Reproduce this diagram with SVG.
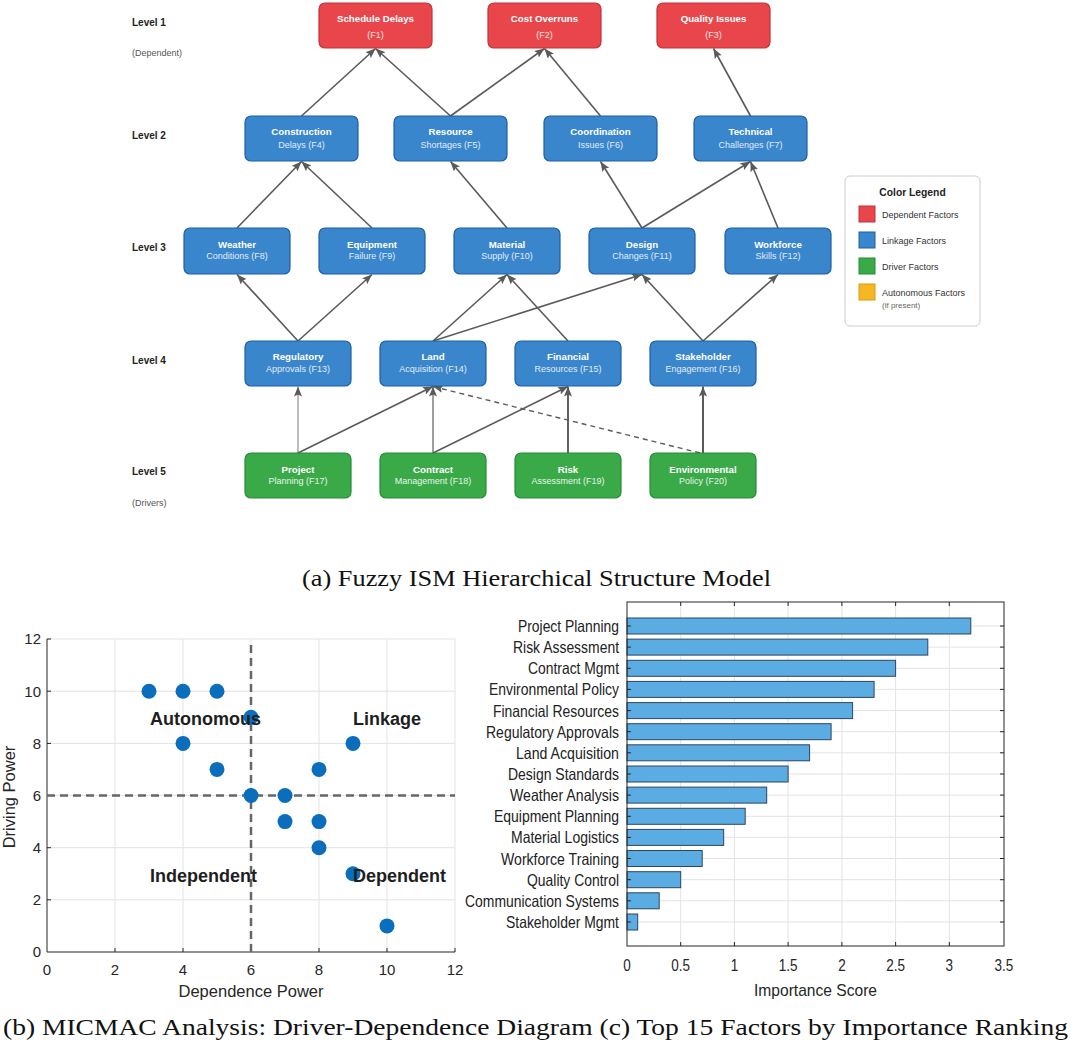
<svg xmlns="http://www.w3.org/2000/svg" width="1071" height="1045" viewBox="0 0 1071 1045">
<style>
.bg{fill:#ffffff}
.red rect{fill:#e9464b;stroke:#c3303a;stroke-width:1.2}
.blue rect{fill:#3a86cc;stroke:#1f5fa3;stroke-width:1.2}
.green rect{fill:#3aaa48;stroke:#278a35;stroke-width:1.2}
.t1{font-family:"Liberation Sans",Arial,sans-serif;font-weight:bold;font-size:9.7px;fill:#ffffff;text-anchor:middle}
.t2{font-family:"Liberation Sans",Arial,sans-serif;font-size:9px;text-anchor:middle}
.red .t2{fill:#fde2e2}
.blue .t2{fill:#e0ecf8}
.green .t2{fill:#e6f5e8}
.lvl{font-family:"Liberation Sans",Arial,sans-serif;font-weight:bold;font-size:10px;fill:#222}
.lvls{font-family:"Liberation Sans",Arial,sans-serif;font-size:9px;fill:#555}
.edge{stroke:#5a5a5a;stroke-width:1.6;fill:none}
.lg{font-family:"Liberation Sans",Arial,sans-serif;font-size:9px;fill:#333}
.cap{font-family:"Liberation Serif","Times New Roman",serif;font-size:23px;fill:#111}
.grid{stroke:#e3e3e3;stroke-width:1}
.ax{stroke:#262626;stroke-width:1;fill:none}
.tk{font-family:"Liberation Sans",Arial,sans-serif;font-size:15px;fill:#262626}
.quad{font-family:"Liberation Sans",Arial,sans-serif;font-weight:bold;font-size:18px;fill:#1e1e1e}
.pt{fill:#0a6ebd}
.bar{fill:#5aace2;stroke:#2d4660;stroke-width:1}
.bl{font-family:"Liberation Sans",Arial,sans-serif;font-size:16.5px;fill:#222;text-anchor:end}
.bn{font-family:"Liberation Sans",Arial,sans-serif;font-size:16.5px;fill:#262626;text-anchor:middle}
</style>
<defs>
<marker id="ah" viewBox="0 0 10 8" refX="10" refY="4" markerWidth="10" markerHeight="8" markerUnits="userSpaceOnUse" orient="auto">
<path d="M0,0 L10,4 L0,8 L2,4 Z" fill="#5a5a5a"/>
</marker>
</defs>
<rect class="bg" x="0" y="0" width="1071" height="1045"/>

<!-- Level labels -->
<g id="level-labels">
<text class="lvl" x="132" y="26">Level 1</text>
<text class="lvls" x="132" y="56">(Dependent)</text>
<text class="lvl" x="132" y="138.5">Level 2</text>
<text class="lvl" x="132" y="250.5">Level 3</text>
<text class="lvl" x="132" y="363.5">Level 4</text>
<text class="lvl" x="132" y="475">Level 5</text>
<text class="lvls" x="132" y="506">(Drivers)</text>
</g>

<!-- Connectors -->
<g id="connectors" marker-end="url(#ah)">
<line class="edge" x1="301.5" y1="116" x2="375.5" y2="48.5" marker-end="url(#ah)"/>
<line class="edge" x1="450.5" y1="116" x2="375.5" y2="48.5" marker-end="url(#ah)"/>
<line class="edge" x1="450.5" y1="116" x2="544.5" y2="48.5" marker-end="url(#ah)"/>
<line class="edge" x1="600.5" y1="116" x2="544.5" y2="48.5" marker-end="url(#ah)"/>
<line class="edge" x1="750.5" y1="116" x2="713.5" y2="48.5" marker-end="url(#ah)"/>
<line class="edge" x1="237" y1="228" x2="301.5" y2="161.5" marker-end="url(#ah)"/>
<line class="edge" x1="372" y1="228" x2="301.5" y2="161.5" marker-end="url(#ah)"/>
<line class="edge" x1="507" y1="228" x2="450.5" y2="161.5" marker-end="url(#ah)"/>
<line class="edge" x1="642" y1="228" x2="600.5" y2="161.5" marker-end="url(#ah)"/>
<line class="edge" x1="642" y1="228" x2="750.5" y2="161.5" marker-end="url(#ah)"/>
<line class="edge" x1="778" y1="228" x2="750.5" y2="161.5" marker-end="url(#ah)"/>
<line class="edge" x1="298" y1="341" x2="237" y2="274.5" marker-end="url(#ah)"/>
<line class="edge" x1="298" y1="341" x2="372" y2="274.5" marker-end="url(#ah)"/>
<line class="edge" x1="433" y1="341" x2="507" y2="274.5" marker-end="url(#ah)"/>
<line class="edge" x1="433" y1="341" x2="642" y2="274.5" marker-end="url(#ah)"/>
<line class="edge" x1="568" y1="341" x2="507" y2="274.5" marker-end="url(#ah)"/>
<line class="edge" x1="703" y1="341" x2="642" y2="274.5" marker-end="url(#ah)"/>
<line class="edge" x1="703" y1="341" x2="778" y2="274.5" marker-end="url(#ah)"/>
<line class="edge" x1="298" y1="453" x2="298" y2="386.5" style="stroke:#777;stroke-width:1" marker-end="url(#ah)"/>
<line class="edge" x1="298" y1="453" x2="433" y2="386.5" marker-end="url(#ah)"/>
<line class="edge" x1="433" y1="453" x2="433" y2="386.5" style="stroke-width:1.3;stroke:#6a6a6a" marker-end="url(#ah)"/>
<line class="edge" x1="433" y1="453" x2="568" y2="386.5" marker-end="url(#ah)"/>
<line class="edge" x1="568" y1="453" x2="568" y2="386.5" style="stroke-width:1.9" marker-end="url(#ah)"/>
<line class="edge" x1="703" y1="453" x2="703" y2="386.5" style="stroke-width:2" marker-end="url(#ah)"/>
<line class="edge" x1="700" y1="453" x2="433" y2="386.5" style="stroke-dasharray:5,4;stroke-width:1.4" marker-end="url(#ah)"/>
</g>

<!-- Level 1 -->
<g id="F1" class="red"><rect x="319" y="3" width="113" height="45" rx="6"/><text class="t1" x="375.5" y="22">Schedule Delays</text><text class="t2" x="375.5" y="38">(F1)</text></g>
<g id="F2" class="red"><rect x="488" y="3" width="113" height="45" rx="6"/><text class="t1" x="544.5" y="22">Cost Overruns</text><text class="t2" x="544.5" y="38">(F2)</text></g>
<g id="F3" class="red"><rect x="657" y="3" width="113" height="45" rx="6"/><text class="t1" x="713.5" y="22">Quality Issues</text><text class="t2" x="713.5" y="38">(F3)</text></g>

<!-- Level 2 -->
<g id="F4" class="blue"><rect x="245" y="116" width="113" height="45" rx="6"/><text class="t1" x="301.5" y="135">Construction</text><text class="t2" x="301.5" y="147.5">Delays (F4)</text></g>
<g id="F5" class="blue"><rect x="394" y="116" width="113" height="45" rx="6"/><text class="t1" x="450.5" y="135">Resource</text><text class="t2" x="450.5" y="147.5">Shortages (F5)</text></g>
<g id="F6" class="blue"><rect x="544" y="116" width="113" height="45" rx="6"/><text class="t1" x="600.5" y="135">Coordination</text><text class="t2" x="600.5" y="147.5">Issues (F6)</text></g>
<g id="F7" class="blue"><rect x="694" y="116" width="113" height="45" rx="6"/><text class="t1" x="750.5" y="135">Technical</text><text class="t2" x="750.5" y="147.5">Challenges (F7)</text></g>

<!-- Level 3 -->
<g id="F8" class="blue"><rect x="184" y="228" width="106" height="46" rx="6"/><text class="t1" x="237" y="247.5">Weather</text><text class="t2" x="237" y="259">Conditions (F8)</text></g>
<g id="F9" class="blue"><rect x="319" y="228" width="106" height="46" rx="6"/><text class="t1" x="372" y="247.5">Equipment</text><text class="t2" x="372" y="259">Failure (F9)</text></g>
<g id="F10" class="blue"><rect x="454" y="228" width="106" height="46" rx="6"/><text class="t1" x="507" y="247.5">Material</text><text class="t2" x="507" y="259">Supply (F10)</text></g>
<g id="F11" class="blue"><rect x="589" y="228" width="106" height="46" rx="6"/><text class="t1" x="642" y="247.5">Design</text><text class="t2" x="642" y="259">Changes (F11)</text></g>
<g id="F12" class="blue"><rect x="725" y="228" width="106" height="46" rx="6"/><text class="t1" x="778" y="247.5">Workforce</text><text class="t2" x="778" y="259">Skills (F12)</text></g>

<!-- Level 4 -->
<g id="F13" class="blue"><rect x="245" y="341" width="106" height="45" rx="6"/><text class="t1" x="298" y="360">Regulatory</text><text class="t2" x="298" y="371.5">Approvals (F13)</text></g>
<g id="F14" class="blue"><rect x="380" y="341" width="106" height="45" rx="6"/><text class="t1" x="433" y="360">Land</text><text class="t2" x="433" y="371.5">Acquisition (F14)</text></g>
<g id="F15" class="blue"><rect x="515" y="341" width="106" height="45" rx="6"/><text class="t1" x="568" y="360">Financial</text><text class="t2" x="568" y="371.5">Resources (F15)</text></g>
<g id="F16" class="blue"><rect x="650" y="341" width="106" height="45" rx="6"/><text class="t1" x="703" y="360">Stakeholder</text><text class="t2" x="703" y="371.5">Engagement (F16)</text></g>

<!-- Level 5 -->
<g id="F17" class="green"><rect x="245" y="453" width="106" height="45" rx="6"/><text class="t1" x="298" y="472.5">Project</text><text class="t2" x="298" y="484">Planning (F17)</text></g>
<g id="F18" class="green"><rect x="380" y="453" width="106" height="45" rx="6"/><text class="t1" x="433" y="472.5">Contract</text><text class="t2" x="433" y="484">Management (F18)</text></g>
<g id="F19" class="green"><rect x="515" y="453" width="106" height="45" rx="6"/><text class="t1" x="568" y="472.5">Risk</text><text class="t2" x="568" y="484">Assessment (F19)</text></g>
<g id="F20" class="green"><rect x="650" y="453" width="106" height="45" rx="6"/><text class="t1" x="703" y="472.5">Environmental</text><text class="t2" x="703" y="484">Policy (F20)</text></g>

<!-- Legend -->
<g id="legend">
<rect x="845" y="176" width="135" height="150" rx="5" fill="#ffffff" stroke="#cccccc" stroke-width="1"/>
<text x="912.5" y="195.5" text-anchor="middle" style="font-family:'Liberation Sans',Arial,sans-serif;font-weight:bold;font-size:10.3px;fill:#222">Color Legend</text>
<rect x="859" y="206" width="16" height="16" fill="#e9464b" stroke="#c3303a"/>
<text class="lg" x="882" y="217.5">Dependent Factors</text>
<rect x="859" y="232" width="16" height="16" fill="#3a86cc" stroke="#1f5fa3"/>
<text class="lg" x="882" y="243.5">Linkage Factors</text>
<rect x="859" y="258" width="16" height="16" fill="#3aaa48" stroke="#278a35"/>
<text class="lg" x="882" y="269.5">Driver Factors</text>
<rect x="859" y="284" width="16" height="16" fill="#f6b822" stroke="#d89c10"/>
<text class="lg" x="882" y="295.5">Autonomous Factors</text>
<text x="882" y="307.5" style="font-family:'Liberation Sans',Arial,sans-serif;font-size:8px;fill:#666">(if present)</text>
</g>

<text class="cap" x="302" y="586" textLength="469" lengthAdjust="spacingAndGlyphs">(a) Fuzzy ISM Hierarchical Structure Model</text>

<!-- MICMAC scatter -->
<g id="micmac">
<g class="grid">
<line x1="115" y1="639" x2="115" y2="952"/><line x1="183" y1="639" x2="183" y2="952"/><line x1="251" y1="639" x2="251" y2="952"/><line x1="319" y1="639" x2="319" y2="952"/><line x1="387" y1="639" x2="387" y2="952"/><line x1="455" y1="639" x2="455" y2="952"/>
<line x1="47" y1="899.8" x2="455" y2="899.8"/><line x1="47" y1="847.7" x2="455" y2="847.7"/><line x1="47" y1="795.5" x2="455" y2="795.5"/><line x1="47" y1="743.4" x2="455" y2="743.4"/><line x1="47" y1="691.2" x2="455" y2="691.2"/><line x1="47" y1="639" x2="455" y2="639"/>
</g>
<path class="ax" d="M47,639 V952 H455"/>
<path class="ax" d="M115,952 v-4 M183,952 v-4 M251,952 v-4 M319,952 v-4 M387,952 v-4 M455,952 v-4 M47,899.8 h4 M47,847.7 h4 M47,795.5 h4 M47,743.4 h4 M47,691.2 h4 M47,639 h4"/>
<g class="tk" text-anchor="middle">
<text x="47" y="975">0</text><text x="115" y="975">2</text><text x="183" y="975">4</text><text x="251" y="975">6</text><text x="319" y="975">8</text><text x="387" y="975">10</text><text x="455" y="975">12</text>
</g>
<g class="tk" text-anchor="end">
<text x="41" y="957">0</text><text x="41" y="905">2</text><text x="41" y="853">4</text><text x="41" y="801">6</text><text x="41" y="748.5">8</text><text x="41" y="696.5">10</text><text x="41" y="644">12</text>
</g>
<line x1="251" y1="645" x2="251" y2="952" stroke="#666" stroke-width="2.5" stroke-dasharray="8,5"/>
<line x1="47" y1="795.5" x2="455" y2="795.5" stroke="#666" stroke-width="2.5" stroke-dasharray="8,5"/>
<g class="pt">
<circle cx="149" cy="691.2" r="7.5"/><circle cx="183" cy="691.2" r="7.5"/><circle cx="217" cy="691.2" r="7.5"/>
<circle cx="251" cy="717.3" r="7.5"/><circle cx="183" cy="743.4" r="7.5"/><circle cx="217" cy="769.4" r="7.5"/>
<circle cx="251" cy="795.5" r="7.5"/><circle cx="285" cy="795.5" r="7.5"/><circle cx="285" cy="821.6" r="7.5"/>
<circle cx="319" cy="769.4" r="7.5"/><circle cx="319" cy="821.6" r="7.5"/><circle cx="319" cy="847.7" r="7.5"/>
<circle cx="353" cy="743.4" r="7.5"/><circle cx="353" cy="873.8" r="7.5"/><circle cx="387" cy="925.9" r="7.5"/>
</g>
<text class="quad" x="150" y="724.5">Autonomous</text>
<text class="quad" x="353" y="724.5">Linkage</text>
<text class="quad" x="150" y="882">Independent</text>
<text class="quad" x="353" y="882">Dependent</text>
<text x="251" y="997" text-anchor="middle" style="font-family:'Liberation Sans',Arial,sans-serif;font-size:16.5px;fill:#262626">Dependence Power</text>
<text transform="translate(15,797) rotate(-90)" text-anchor="middle" style="font-family:'Liberation Sans',Arial,sans-serif;font-size:16.5px;fill:#262626">Driving Power</text>
</g>

<!-- Bar chart -->
<g id="ranking">
<g class="grid">
<line x1="680.7" y1="602" x2="680.7" y2="946"/><line x1="734.4" y1="602" x2="734.4" y2="946"/><line x1="788.1" y1="602" x2="788.1" y2="946"/><line x1="841.9" y1="602" x2="841.9" y2="946"/><line x1="895.6" y1="602" x2="895.6" y2="946"/><line x1="949.3" y1="602" x2="949.3" y2="946"/>
<line x1="627" y1="626" x2="1004" y2="626"/><line x1="627" y1="647.1" x2="1004" y2="647.1"/><line x1="627" y1="668.3" x2="1004" y2="668.3"/><line x1="627" y1="689.4" x2="1004" y2="689.4"/><line x1="627" y1="710.6" x2="1004" y2="710.6"/><line x1="627" y1="731.7" x2="1004" y2="731.7"/><line x1="627" y1="752.8" x2="1004" y2="752.8"/><line x1="627" y1="774" x2="1004" y2="774"/><line x1="627" y1="795.1" x2="1004" y2="795.1"/><line x1="627" y1="816.3" x2="1004" y2="816.3"/><line x1="627" y1="837.4" x2="1004" y2="837.4"/><line x1="627" y1="858.5" x2="1004" y2="858.5"/><line x1="627" y1="879.7" x2="1004" y2="879.7"/><line x1="627" y1="900.8" x2="1004" y2="900.8"/><line x1="627" y1="922" x2="1004" y2="922"/>
</g>
<g class="bar">
<rect x="627" y="618" width="343.8" height="16"/>
<rect x="627" y="639.1" width="300.8" height="16"/>
<rect x="627" y="660.3" width="268.6" height="16"/>
<rect x="627" y="681.4" width="247.1" height="16"/>
<rect x="627" y="702.6" width="225.6" height="16"/>
<rect x="627" y="723.7" width="204.1" height="16"/>
<rect x="627" y="744.8" width="182.6" height="16"/>
<rect x="627" y="766" width="161.1" height="16"/>
<rect x="627" y="787.1" width="139.7" height="16"/>
<rect x="627" y="808.3" width="118.2" height="16"/>
<rect x="627" y="829.4" width="96.7" height="16"/>
<rect x="627" y="850.5" width="75.2" height="16"/>
<rect x="627" y="871.7" width="53.7" height="16"/>
<rect x="627" y="892.8" width="32.2" height="16"/>
<rect x="627" y="914" width="10.7" height="16"/>
</g>
<rect class="ax" x="627" y="602" width="377" height="344"/>
<path class="ax" d="M680.7,946 v-4 M734.4,946 v-4 M788.1,946 v-4 M841.9,946 v-4 M895.6,946 v-4 M949.3,946 v-4 M680.7,602 v4 M734.4,602 v4 M788.1,602 v4 M841.9,602 v4 M895.6,602 v4 M949.3,602 v4
M627,626 h4 M627,647.1 h4 M627,668.3 h4 M627,689.4 h4 M627,710.6 h4 M627,731.7 h4 M627,752.8 h4 M627,774 h4 M627,795.1 h4 M627,816.3 h4 M627,837.4 h4 M627,858.5 h4 M627,879.7 h4 M627,900.8 h4 M627,922 h4
M1004,626 h-4 M1004,647.1 h-4 M1004,668.3 h-4 M1004,689.4 h-4 M1004,710.6 h-4 M1004,731.7 h-4 M1004,752.8 h-4 M1004,774 h-4 M1004,795.1 h-4 M1004,816.3 h-4 M1004,837.4 h-4 M1004,858.5 h-4 M1004,879.7 h-4 M1004,900.8 h-4 M1004,922 h-4"/>
<text class="bl" x="619" y="632" textLength="101" lengthAdjust="spacingAndGlyphs">Project Planning</text>
<text class="bl" x="619" y="653.1" textLength="106" lengthAdjust="spacingAndGlyphs">Risk Assessment</text>
<text class="bl" x="619" y="674.3" textLength="91" lengthAdjust="spacingAndGlyphs">Contract Mgmt</text>
<text class="bl" x="619" y="695.4" textLength="130" lengthAdjust="spacingAndGlyphs">Environmental Policy</text>
<text class="bl" x="619" y="716.6" textLength="126" lengthAdjust="spacingAndGlyphs">Financial Resources</text>
<text class="bl" x="619" y="737.7" textLength="133" lengthAdjust="spacingAndGlyphs">Regulatory Approvals</text>
<text class="bl" x="619" y="758.8" textLength="103" lengthAdjust="spacingAndGlyphs">Land Acquisition</text>
<text class="bl" x="619" y="780" textLength="111" lengthAdjust="spacingAndGlyphs">Design Standards</text>
<text class="bl" x="619" y="801.1" textLength="109" lengthAdjust="spacingAndGlyphs">Weather Analysis</text>
<text class="bl" x="619" y="822.3" textLength="125" lengthAdjust="spacingAndGlyphs">Equipment Planning</text>
<text class="bl" x="619" y="843.4" textLength="108" lengthAdjust="spacingAndGlyphs">Material Logistics</text>
<text class="bl" x="619" y="864.5" textLength="118" lengthAdjust="spacingAndGlyphs">Workforce Training</text>
<text class="bl" x="619" y="885.7" textLength="92" lengthAdjust="spacingAndGlyphs">Quality Control</text>
<text class="bl" x="619" y="906.8" textLength="154" lengthAdjust="spacingAndGlyphs">Communication Systems</text>
<text class="bl" x="619" y="928" textLength="113" lengthAdjust="spacingAndGlyphs">Stakeholder Mgmt</text>
<text class="bn" transform="translate(627,971) scale(0.82,1)">0</text>
<text class="bn" transform="translate(680.7,971) scale(0.82,1)">0.5</text>
<text class="bn" transform="translate(734.4,971) scale(0.82,1)">1</text>
<text class="bn" transform="translate(788.1,971) scale(0.82,1)">1.5</text>
<text class="bn" transform="translate(841.9,971) scale(0.82,1)">2</text>
<text class="bn" transform="translate(895.6,971) scale(0.82,1)">2.5</text>
<text class="bn" transform="translate(949.3,971) scale(0.82,1)">3</text>
<text class="bn" transform="translate(1004,971) scale(0.82,1)">3.5</text>
<text x="754" y="996" textLength="123" lengthAdjust="spacingAndGlyphs" style="font-family:'Liberation Sans',Arial,sans-serif;font-size:17px;fill:#262626">Importance Score</text>
</g>

<text class="cap" x="3" y="1035" textLength="1065" lengthAdjust="spacingAndGlyphs">(b) MICMAC Analysis: Driver-Dependence Diagram (c) Top 15 Factors by Importance Ranking</text>
</svg>
